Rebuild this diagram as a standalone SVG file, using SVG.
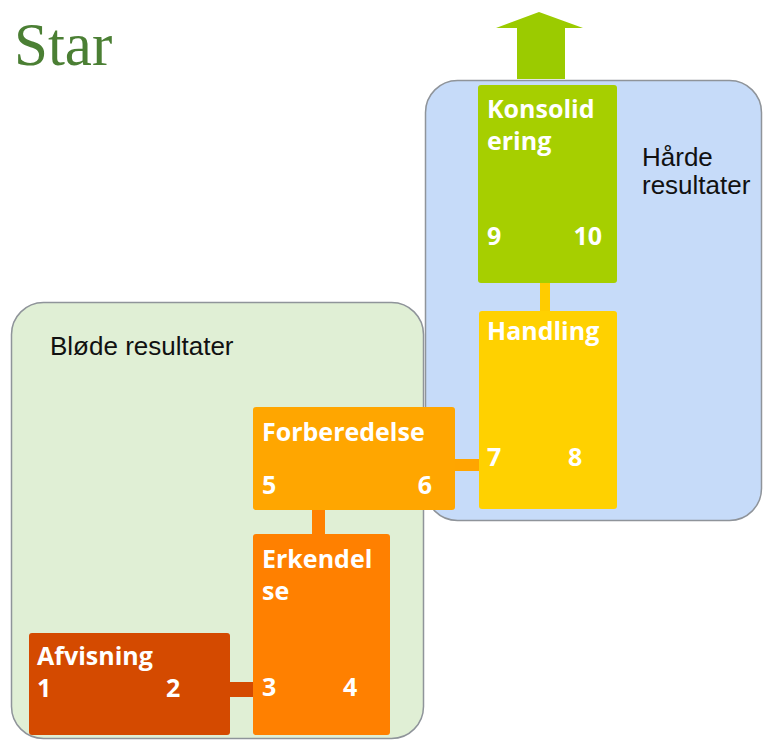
<svg xmlns="http://www.w3.org/2000/svg" width="769" height="740" viewBox="0 0 769 740">
<style>
.t{font-family:"Open Sans","DejaVu Sans",sans-serif;font-weight:bold;font-size:25px;fill:#ffffff}
.lbl{font-family:"Liberation Sans",Arial,sans-serif;font-size:26px;fill:#111111}
.grp{stroke:#8f949a;stroke-width:1.5}
</style>
<rect width="769" height="740" fill="#ffffff"/>
<text x="14" y="65" font-family="Liberation Serif,serif" font-size="61" fill="#4b7f34">Star</text>
<g id="hard-group">
<rect class="grp" x="425.5" y="80.5" width="336" height="440" rx="32" fill="#c6dbf9"/>
<text class="lbl" x="642" y="166">Hårde</text>
<text class="lbl" x="642" y="194">resultater</text>
</g>
<g id="soft-group">
<rect class="grp" x="11.5" y="302.5" width="412" height="436" rx="32" fill="#e0efd5"/>
<text class="lbl" x="50" y="355">Bløde resultater</text>
</g>
<g id="arrow">
<polygon points="517,79 565,79 565,28 583,28 539,12 496,28 517,28" fill="#9bcb00"/>
</g>
<g id="connectors">
<rect x="540" y="282" width="10" height="30" fill="#ffcc00"/>
<rect x="454" y="459" width="26" height="12" fill="#ffa500"/>
<rect x="312" y="509" width="13" height="27" fill="#ff8000"/>
<rect x="229" y="682" width="25" height="15" fill="#d44a00"/>
</g>
<g id="konsolidering">
<rect x="478" y="85" width="139" height="198" rx="3" fill="#a6cf00"/>
<text class="t" x="487" y="118">Konsolid</text>
<text class="t" x="487" y="150">ering</text>
<text class="t" x="487" y="245">9</text>
<text class="t" x="602" y="245" text-anchor="end">10</text>
</g>
<g id="handling">
<rect x="479" y="311" width="138" height="198" rx="3" fill="#ffd100"/>
<text class="t" x="487" y="340">Handling</text>
<text class="t" x="487" y="466">7</text>
<text class="t" x="568" y="466">8</text>
</g>
<g id="forberedelse">
<rect x="253" y="407" width="202" height="103" rx="3" fill="#ffa600"/>
<text class="t" x="262" y="441">Forberedelse</text>
<text class="t" x="262" y="494">5</text>
<text class="t" x="432" y="494" text-anchor="end">6</text>
</g>
<g id="erkendelse">
<rect x="253" y="534" width="137" height="201" rx="3" fill="#ff8000"/>
<text class="t" x="262" y="568">Erkendel</text>
<text class="t" x="262" y="600">se</text>
<text class="t" x="262" y="696">3</text>
<text class="t" x="343" y="696">4</text>
</g>
<g id="afvisning">
<rect x="29" y="633" width="201" height="102" rx="3" fill="#d44a00"/>
<text class="t" x="37" y="665">Afvisning</text>
<text class="t" x="37" y="697">1</text>
<text class="t" x="166" y="697">2</text>
</g>
</svg>
